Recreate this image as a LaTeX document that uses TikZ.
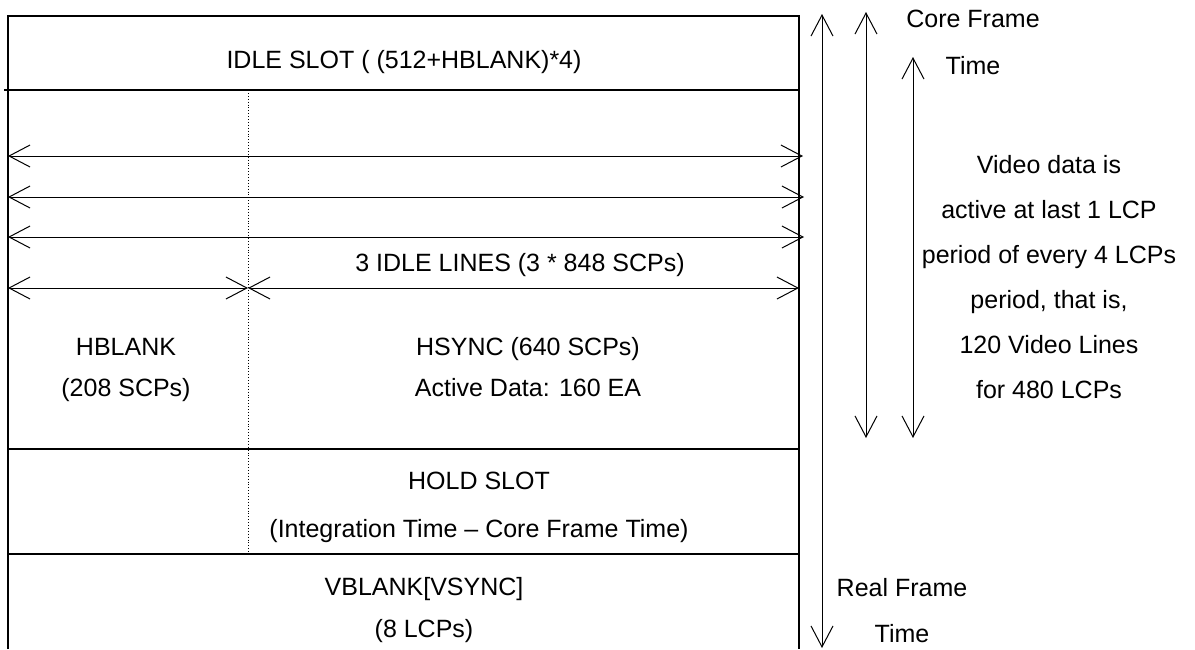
\documentclass[tikz,border=0pt]{standalone}
\usepackage{fontspec}
\setmainfont{Liberation Sans}
\usetikzlibrary{arrows.meta}
\tikzset{
  txt/.style={inner sep=0pt, anchor=base, font=\fontsize{25}{30}\selectfont},
  frameline/.style={line width=1.3pt},
  dimarrow/.style={line width=1pt, {Straight Barb[length=21pt,width=22pt]}-{Straight Barb[length=21pt,width=22pt]}},
  sepline/.style={line width=0.9pt, dotted},
}
\begin{document}
\begin{tikzpicture}[x=1pt,y=-1pt]
\useasboundingbox (0,0) rectangle (1195,649);
% frame of the slots
\coordinate (tl) at (8,16);
\coordinate (tr) at (799,16);
\coordinate (bl) at (8,649);
\coordinate (br) at (799,649);
\coordinate (il) at (4,90);
\coordinate (ir) at (799,90);
\coordinate (hl) at (8,449);
\coordinate (hr) at (799,449);
\coordinate (vl) at (8,554);
\coordinate (vr) at (799,554);
\coordinate (dtop) at (248,90);
\coordinate (dbot) at (248,554);
\draw[frameline] (bl) -- (tl) -- (tr) -- (br);
\draw[frameline] (il) -- (ir);
\draw[frameline] (hl) -- (hr);
\draw[frameline] (vl) -- (vr);
\draw[sepline] (dtop) -- (dbot);
% idle lines
\coordinate (a1l) at (8,156);  \coordinate (a1r) at (803,156);
\coordinate (a2l) at (8,197);  \coordinate (a2r) at (804,197);
\coordinate (a3l) at (8,237);  \coordinate (a3r) at (804,237);
\coordinate (a4l) at (8,288);  \coordinate (a4m) at (248,288);
\coordinate (a4r) at (799,288);
\draw[dimarrow] (a1l) -- (a1r);
\draw[dimarrow] (a2l) -- (a2r);
\draw[dimarrow] (a3l) -- (a3r);
\draw[dimarrow] (a4l) -- (a4m);
\draw[dimarrow] (a4m) -- (a4r);
% time arrows
\coordinate (rft) at (822,14);  \coordinate (rfb) at (822,648);
\coordinate (cft) at (866,12);  \coordinate (cfb) at (866,438);
\coordinate (vdt) at (913,57);  \coordinate (vdb) at (913,438);
\draw[dimarrow] (rft) -- (rfb);
\draw[dimarrow] (cft) -- (cfb);
\draw[dimarrow] (vdt) -- (vdb);
% slot labels
\node[txt] (idle) at (404,68) {IDLE SLOT ( (512+HBLANK)*4)};
\node[txt] (lines) at (520,271) {3 IDLE LINES (3 * 848 SCPs)};
\node[txt] (hb1) at (126,355) {HBLANK};
\node[txt] (hb2) at (126,396) {(208 SCPs)};
\node[txt] (hs1) at (528,355) {HSYNC (640 SCPs)};
\node[txt] (hs2) at (528,396) {Active Data: 160 EA};
\node[txt] (hold1) at (479,489) {HOLD SLOT};
\node[txt] (hold2) at (479,537) {(Integration Time -- Core Frame Time)};
\node[txt] (vb1) at (424,595) {VBLANK[VSYNC]};
\node[txt] (vb2) at (424,637) {(8 LCPs)};
% time labels
\node[txt] (cf1) at (973,27) {Core Frame};
\node[txt] (cf2) at (973,74) {Time};
\node[txt] (vd1) at (1049,173) {Video data is};
\node[txt] (vd2) at (1049,218) {active at last 1 LCP};
\node[txt] (vd3) at (1049,263) {period of every 4 LCPs};
\node[txt] (vd4) at (1049,308) {period, that is,};
\node[txt] (vd5) at (1049,353) {120 Video Lines};
\node[txt] (vd6) at (1049,398) {for 480 LCPs};
\node[txt] (rf1) at (902,596) {Real Frame};
\node[txt] (rf2) at (902,642) {Time};
\end{tikzpicture}
\end{document}
